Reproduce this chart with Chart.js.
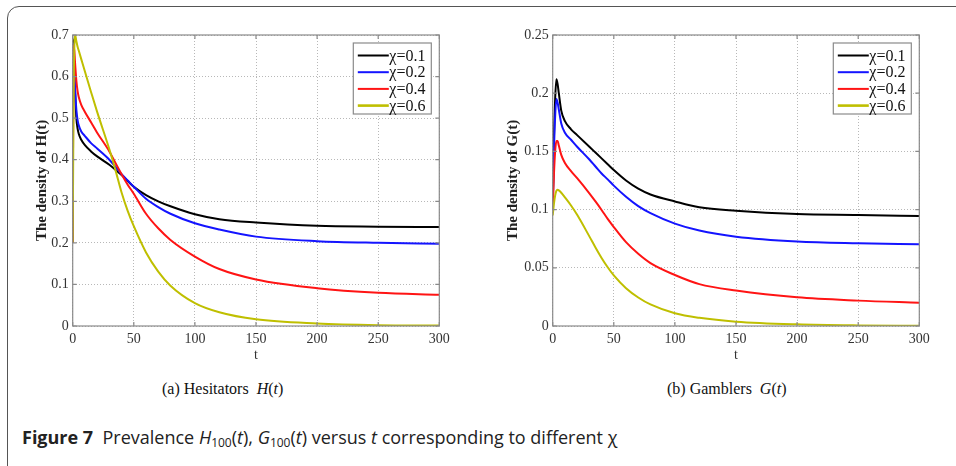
<!DOCTYPE html>
<html>
<head>
<meta charset="utf-8">
<script src="https://cdn.jsdelivr.net/npm/chart.js@4.4.1/dist/chart.umd.min.js"></script>
<style>
  body { margin: 0; width: 956px; height: 466px; overflow: hidden; background: #fff; position: relative; }
  #frame { position: absolute; left: 7px; top: 6px; width: 1000px; height: 470px; border: 1.5px solid #555; border-radius: 12px; }
  .plot { position: absolute; top: 0; }
  .sub { position: absolute; top: 380px; font-family: "Liberation Serif", serif; font-size: 16px; color: #111; white-space: pre; }
  #caption { position: absolute; left: 22px; top: 425px; font-family: "Open Sans", sans-serif; font-size: 18px; color: #222; white-space: pre; }
  #caption b { font-weight: 700; }
  sub { font-size: 12px; vertical-align: -3px; }
</style>
</head>
<body>
<div id="frame"></div>
<canvas id="chartH" class="plot" width="478" height="372" style="left:0"></canvas>
<canvas id="chartG" class="plot" width="476" height="372" style="left:480px"></canvas>
<div class="sub" style="left:162px">(a) Hesitators  <i>H</i>(<i>t</i>)</div>
<div class="sub" style="left:667px">(b) Gamblers  <i>G</i>(<i>t</i>)</div>
<div id="caption"><b>Figure 7</b>  Prevalence <i>H</i><sub>100</sub>(<i>t</i>), <i>G</i><sub>100</sub>(<i>t</i>) versus <i>t</i> corresponding to different χ</div>

<script>
// sample times shared by every curve
const tValues = [0, 0.5, 1, 2, 3, 4, 5, 7, 10, 15, 20, 30, 35, 40, 45, 50, 60, 70, 80, 100, 120, 150, 200, 250, 300];

const chiLabels = ["χ=0.1", "χ=0.2", "χ=0.4", "χ=0.6"];
const chiColors = ["#000000", "#1414ff", "#ff1414", "#bfbf00"];

// H(t), hesitators
const hChi01 = [0.2, 0.69, 0.62, 0.56, 0.5, 0.475, 0.462, 0.448, 0.435, 0.42, 0.408, 0.388, 0.376, 0.363, 0.349, 0.335, 0.315, 0.3, 0.288, 0.269, 0.257, 0.249, 0.241, 0.239, 0.238];
const hChi02 = [0.2, 0.68, 0.64, 0.57, 0.52, 0.495, 0.482, 0.468, 0.457, 0.44, 0.427, 0.4, 0.383, 0.365, 0.35, 0.335, 0.306, 0.286, 0.27, 0.247, 0.232, 0.215, 0.204, 0.2, 0.198];
const hChi04 = [0.2, 0.6, 0.675, 0.63, 0.59, 0.565, 0.55, 0.532, 0.515, 0.49, 0.465, 0.42, 0.392, 0.365, 0.34, 0.318, 0.27, 0.235, 0.207, 0.167, 0.137, 0.112, 0.091, 0.08, 0.075];
const hChi06 = [0.2, 0.45, 0.62, 0.7, 0.685, 0.672, 0.662, 0.642, 0.612, 0.563, 0.515, 0.425, 0.375, 0.321, 0.277, 0.24, 0.177, 0.131, 0.097, 0.055, 0.033, 0.016, 0.006, 0.002, 0.001];

// G(t), gamblers
const gChi01 = [0.1, 0.13, 0.16, 0.195, 0.212, 0.208, 0.2, 0.185, 0.176, 0.169, 0.164, 0.154, 0.149, 0.144, 0.139, 0.134, 0.125, 0.118, 0.113, 0.107, 0.102, 0.099, 0.0962, 0.0954, 0.0945];
const gChi02 = [0.1, 0.125, 0.15, 0.18, 0.195, 0.192, 0.186, 0.174, 0.166, 0.16, 0.154, 0.143, 0.137, 0.131, 0.126, 0.1206, 0.111, 0.103, 0.097, 0.088, 0.082, 0.0767, 0.0725, 0.071, 0.0702];
const gChi04 = [0.1, 0.115, 0.13, 0.15, 0.159, 0.159, 0.155, 0.147, 0.14, 0.133, 0.127, 0.114, 0.107, 0.0997, 0.092, 0.085, 0.072, 0.062, 0.054, 0.0438, 0.036, 0.0304, 0.0246, 0.0218, 0.02];
const gChi06 = [0.095, 0.1, 0.105, 0.112, 0.116, 0.117, 0.1165, 0.1145, 0.1105, 0.1035, 0.0955, 0.077, 0.0675, 0.0585, 0.0505, 0.0435, 0.0325, 0.0245, 0.0185, 0.0109, 0.007, 0.0037, 0.0014, 0.0005, 0.0002];

const xTicks = [0, 50, 100, 150, 200, 250, 300];
const hTicks = [0, 0.1, 0.2, 0.3, 0.4, 0.5, 0.6, 0.7];
const gTicks = [0, 0.05, 0.1, 0.15, 0.2, 0.25];

const serif = "'Liberation Serif', 'Times New Roman', serif";

// box around the plot area with small inward ticks, matlab style
const framePlugin = {
  id: "frame",
  afterDatasetsDraw(chart) {
    const { ctx, chartArea: a, scales } = chart;
    ctx.save();
    ctx.strokeStyle = "#8a8a8a";
    ctx.lineWidth = 1.2;
    ctx.strokeRect(a.left, a.top, a.right - a.left, a.bottom - a.top);
    ctx.beginPath();
    scales.x.ticks.forEach((t) => {
      const x = scales.x.getPixelForValue(t.value);
      ctx.moveTo(x, a.bottom); ctx.lineTo(x, a.bottom - 4);
      ctx.moveTo(x, a.top); ctx.lineTo(x, a.top + 4);
    });
    scales.y.ticks.forEach((t) => {
      const y = scales.y.getPixelForValue(t.value);
      ctx.moveTo(a.left, y); ctx.lineTo(a.left + 4, y);
      ctx.moveTo(a.right, y); ctx.lineTo(a.right - 4, y);
    });
    ctx.stroke();
    ctx.restore();
  },
};

// legend box in the top right corner of the plot
const legendPlugin = {
  id: "boxLegend",
  afterDraw(chart) {
    const { ctx, chartArea: a } = chart;
    const w = 78, h = 71;
    const left = a.right - 8 - w, top = a.top + 8;
    ctx.save();
    ctx.fillStyle = "#fff";
    ctx.fillRect(left, top, w, h);
    ctx.strokeStyle = "#8a8a8a";
    ctx.lineWidth = 1.2;
    ctx.strokeRect(left, top, w, h);
    ctx.font = "16px 'Liberation Serif'";
    ctx.textBaseline = "middle";
    chart.data.datasets.forEach((ds, i) => {
      const y = top + 12.5 + i * 16.7;
      ctx.strokeStyle = ds.borderColor;
      ctx.lineWidth = i === 3 ? 2.6 : 2;
      ctx.beginPath();
      ctx.moveTo(left + 4.5, y);
      ctx.lineTo(left + 35.5, y);
      ctx.stroke();
      ctx.fillStyle = "#111";
      ctx.fillText(ds.label, left + 36, y + 1);
    });
    ctx.restore();
  },
};

function makeChart(id, series, yTicks, yMax, yTitle, titleGap, rightPad) {
  const datasets = series.map((vals, i) => ({
    label: chiLabels[i],
    data: tValues.map((t, j) => ({ x: t, y: vals[j] })),
    borderColor: chiColors[i],
    borderWidth: 2,
    pointRadius: 0,
    cubicInterpolationMode: "monotone",
    order: 4 - i,
  }));

  return new Chart(document.getElementById(id), {
    type: "line",
    data: { datasets: datasets },
    options: {
      responsive: false,
      animation: false,
      devicePixelRatio: 1,
      layout: { padding: { left: 0, top: 35, right: rightPad, bottom: 6 } },
      plugins: { legend: { display: false }, tooltip: { enabled: false } },
      scales: {
        x: {
          type: "linear",
          min: 0,
          max: 300,
          afterBuildTicks: (s) => { s.ticks = xTicks.map((v) => ({ value: v })); },
          afterFit: (s) => { s.height = 40; },
          grid: { color: "#b8b8b8", drawTicks: false, lineWidth: 1 },
          border: { display: false, dash: [1, 2] },
          ticks: { color: "#333", font: { family: serif, size: 14 }, padding: 5, maxRotation: 0 },
          title: { display: true, text: "t", color: "#333", font: { family: serif, size: 14 }, padding: { top: 0, bottom: 2.6 } },
        },
        y: {
          min: 0,
          max: yMax,
          afterBuildTicks: (s) => { s.ticks = yTicks.map((v) => ({ value: v })); },
          afterFit: (s) => { s.width = 72.7; },
          grid: { color: "#b8b8b8", drawTicks: false, lineWidth: 1 },
          border: { display: false, dash: [1, 2] },
          ticks: { color: "#333", font: { family: serif, size: 14 }, padding: 4, callback: (v) => String(v) },
          title: { display: true, text: yTitle, color: "#222", font: { family: serif, size: 15, weight: "bold" }, padding: { top: titleGap, bottom: 0 } },
        },
      },
    },
    plugins: [framePlugin, legendPlugin],
  });
}

makeChart("chartH", [hChi01, hChi02, hChi04, hChi06], hTicks, 0.7, "The density of H(t)", 32.7, 38.7);
makeChart("chartG", [gChi01, gChi02, gChi04, gChi06], gTicks, 0.25, "The density of G(t)", 24, 36.7);
</script>
</body>
</html>
